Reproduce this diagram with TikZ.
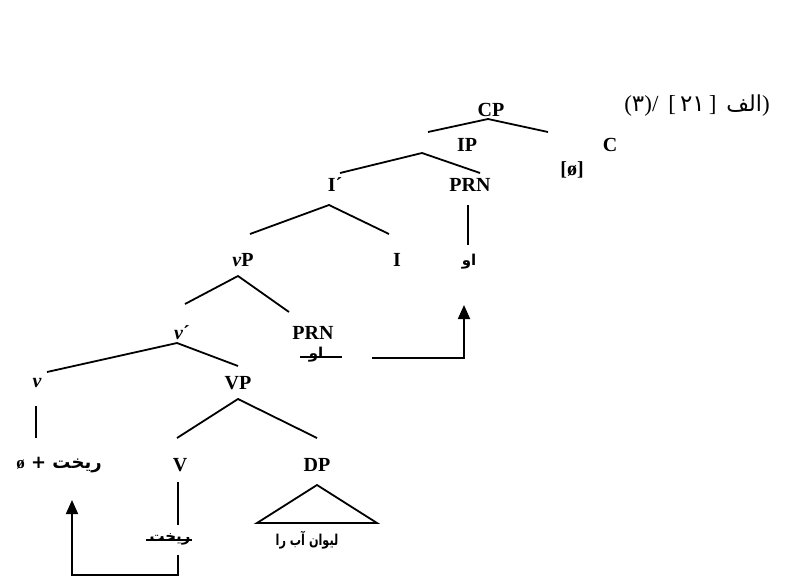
\documentclass[tikz,border=0pt]{standalone}
\usepackage{fontspec}
\setmainfont{Liberation Serif}
\newfontfamily\fa[Script=Arabic]{DejaVu Sans}
\newfontfamily\fanar[Script=Arabic,FakeStretch=0.75]{DejaVu Sans}
\TeXXeTstate=1
\usetikzlibrary{arrows.meta}
\newcommand\titletext{\hbox{(}\hbox{\fa\fontsize{23}{24}\selectfont ٣}\hbox{)}\hbox{/}\hspace{10pt}\hbox{[}\hspace{4pt}\hbox{\fa\fontsize{23}{24}\selectfont ٢١}\hspace{4pt}\hbox{]}\hspace{10pt}\hbox{\fa\fontsize{22}{24}\selectfont الف}\hbox{)}}
\begin{document}
\begin{tikzpicture}[x=1pt,y=-1pt,line width=1.8pt,
  lbl/.style={font=\fontsize{20}{21}\selectfont\bfseries,inner sep=0pt},
  fa/.style={font=\fa\fontsize{15}{16}\selectfont\bfseries,inner sep=0pt},
  br/.style={line width=1.8pt},
  mv/.style={line width=1.8pt,-{Triangle[length=14pt,width=12pt]}}]
\useasboundingbox (0,0) rectangle (798,587);
% labels
\node[font=\fontsize{23}{24}\selectfont,inner sep=0pt] (title) at (697,106) {\titletext};
\node[lbl] (cp) at (491,110) {CP};
\node[lbl] (ip) at (467,145) {IP};
\node[lbl] (c) at (610,145) {C};
\node[lbl] (cnull) at (572,170) {[ø]};
\node[lbl] (ibar) at (335,185) {I´};
\node[lbl] (prn1) at (470,185) {PRN};
\node[lbl] (vp) at (243,260) {{\itshape v}P};
\node[lbl] (i) at (397,260) {I};
\node[fa] (u1) at (469,262) {\beginR او\endR};
\node[lbl] (vbar) at (182,333) {{\itshape v}´};
\node[lbl] (prn2) at (313,333) {PRN};
\node[fa] (u2) at (316,355) {\beginR او\endR};
\node[lbl] (v) at (37,383) {{\itshape v}};
\node[lbl] (VP) at (238,383) {VP};
\node[fa,font=\fa\fontsize{18}{19}\selectfont\bfseries] (vhead) at (59,465) {{\rmfamily\bfseries\fontsize{17}{18}\selectfont ø}\ + \beginR ریخت\endR};
\node[lbl] (V) at (180,465) {V};
\node[lbl] (dp) at (317,465) {DP};
\node[fa] (rikht) at (170,539) {\beginR ریخت\endR};
\node[fa,font=\fanar\fontsize{15}{16}\selectfont\bfseries] (obj) at (307,540) {\beginR لیوان آب را\endR};
% branch points
\coordinate (cpa) at (488,119);  \coordinate (cpl) at (428,132); \coordinate (cpr) at (548,132);
\coordinate (ipa) at (422,153);  \coordinate (ipl) at (340,173); \coordinate (ipr) at (480,173);
\coordinate (iba) at (329,205);  \coordinate (ibl) at (250,234); \coordinate (ibr) at (389,234);
\coordinate (p1t) at (468,205);  \coordinate (p1b) at (468,245);
\coordinate (vpa) at (238,276);  \coordinate (vpl) at (185,304); \coordinate (vpr) at (289,312);
\coordinate (vba) at (177,343);  \coordinate (vbl) at (47,372);  \coordinate (vbr) at (238,366);
\coordinate (vt) at (36,406);    \coordinate (vb) at (36,438);
\coordinate (VPa) at (238,399);  \coordinate (VPl) at (177,438); \coordinate (VPr) at (317,438);
\coordinate (Vt) at (178,482);   \coordinate (Vb) at (178,525);
\coordinate (dpa) at (317,485);  \coordinate (dpl) at (257,523); \coordinate (dpr) at (377,523);
\coordinate (s1l) at (300,357);  \coordinate (s1r) at (342,357);
\coordinate (s2l) at (146,540);  \coordinate (s2r) at (192,540);
\coordinate (m1s) at (372,358);  \coordinate (m1c) at (464,358); \coordinate (m1e) at (464,305);
\coordinate (m2s) at (178,555);  \coordinate (m2c) at (178,575); \coordinate (m2d) at (72,575); \coordinate (m2e) at (72,500);
% tree
\draw[br] (cpl) -- (cpa) -- (cpr);
\draw[br] (ipl) -- (ipa) -- (ipr);
\draw[br] (ibl) -- (iba) -- (ibr);
\draw[br] (p1t) -- (p1b);
\draw[br] (vpl) -- (vpa) -- (vpr);
\draw[br] (vbl) -- (vba) -- (vbr);
\draw[br] (vt) -- (vb);
\draw[br] (VPl) -- (VPa) -- (VPr);
\draw[br] (Vt) -- (Vb);
\draw[br] (dpa) -- (dpl) -- (dpr) -- cycle;
% strike-throughs
\draw[line width=1.3pt] (s1l) -- (s1r);
\draw[line width=1.3pt] (s2l) -- (s2r);
% movement arrows
\draw[mv] (m1s) -- (m1c) -- (m1e);
\draw[mv] (m2s) -- (m2c) -- (m2d) -- (m2e);
\end{tikzpicture}
\end{document}
